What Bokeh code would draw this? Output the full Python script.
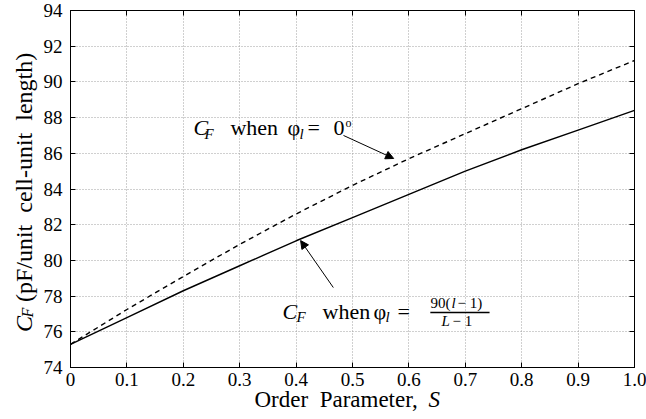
import math
from bokeh.plotting import figure
from bokeh.layouts import row, column
from bokeh.models import Range1d, FixedTicker, LinearAxis, Label, Arrow, NormalHead
from bokeh.embed import file_html
from bokeh.resources import INLINE

# ---- data ----
order_param = [0.0, 0.1, 0.2, 0.3, 0.4, 0.5, 0.6, 0.7, 0.8, 0.9, 1.0]
cf_phi_zero = [75.3, 77.25, 79.1, 80.9, 82.6, 84.2, 85.7, 87.1, 88.5, 89.9, 91.2]
cf_phi_graded = [75.3, 76.8, 78.3, 79.7, 81.1, 82.4, 83.7, 85.0, 86.2, 87.3, 88.4]
x_ticks = [0.0, 0.1, 0.2, 0.3, 0.4, 0.5, 0.6, 0.7, 0.8, 0.9, 1.0]
x_ticklabels = ["0", "0.1", "0.2", "0.3", "0.4", "0.5", "0.6", "0.7", "0.8", "0.9", "1.0"]
y_ticks = [74, 76, 78, 80, 82, 84, 86, 88, 90, 92, 94]

FONT = "Liberation Serif"
NB = "\u00a0"
PHI = "\u03c6"

W, H = 646, 419
LEFT_W = 40
MAIN_H = 393
OVERLAP = 10
BOTTOM_H = H - MAIN_H + OVERLAP

p = figure(width=W - LEFT_W, height=MAIN_H, x_range=Range1d(0, 1), y_range=Range1d(74, 94),
           output_backend="svg", toolbar_location=None,
           min_border_left=30, min_border_right=12, min_border_top=10, min_border_bottom=26)
p.outline_line_color = "black"
p.outline_line_width = 1
p.background_fill_color = "white"
p.border_fill_color = "white"

def style_axis(ax, show_labels=True):
    ax.axis_line_color = "black"
    ax.axis_line_width = 1
    ax.major_tick_in = 5
    ax.major_tick_out = 0
    ax.minor_tick_in = 0
    ax.minor_tick_out = 0
    ax.major_tick_line_color = "black"
    ax.major_label_text_font = FONT
    ax.major_label_text_color = "black"
    ax.major_label_text_font_size = "19px"
    if not show_labels:
        ax.major_label_standoff = 0

p.xaxis.ticker = FixedTicker(ticks=x_ticks)
p.yaxis.ticker = FixedTicker(ticks=y_ticks)
p.xaxis.major_label_overrides = {t: s for t, s in zip(x_ticks, x_ticklabels)}
style_axis(p.xaxis[0])
style_axis(p.yaxis[0])
p.xaxis.major_label_standoff = 5
p.yaxis.major_label_standoff = 8

top_ax = LinearAxis(ticker=FixedTicker(ticks=x_ticks),
                    major_label_overrides={t: "" for t in x_ticks})
right_ax = LinearAxis(ticker=FixedTicker(ticks=y_ticks),
                      major_label_overrides={t: "" for t in y_ticks})
style_axis(top_ax, False)
style_axis(right_ax, False)
p.add_layout(top_ax, "above")
p.add_layout(right_ax, "right")

p.xgrid.ticker = FixedTicker(ticks=x_ticks)
p.ygrid.ticker = FixedTicker(ticks=y_ticks)
for g in (p.xgrid[0], p.ygrid[0]):
    g.grid_line_color = "#a0a0a0"
    g.grid_line_dash = "1 2"
    g.grid_line_width = 1

p.line(order_param, cf_phi_zero, line_color="black", line_width=1.4, line_dash="5 4")
p.line(order_param, cf_phi_graded, line_color="black", line_width=1.4)

def lab(fig, x, y, text, dx=0, dy=0, size=22, style="normal", angle=0, font=FONT):
    if angle == 0:
        dy = dy + round(0.3 * size)   # compensate baseline placement
    fig.add_layout(Label(x=x, y=y, text=text, x_offset=dx, y_offset=dy,
                         text_font=font, text_font_size=f"{size}px", text_font_style=style,
                         text_color="black", text_align="left", text_baseline="alphabetic",
                         angle=angle))

# annotation 1
ax1, ay1 = 0.218, 87.05
lab(p, ax1, ay1, "C", dx=0, style="italic")
lab(p, ax1, ay1, "F", dx=11, dy=-3, size=15, style="italic")
lab(p, ax1, ay1, "when", dx=37)
lab(p, ax1, ay1, PHI, dx=94)
lab(p, ax1, ay1, "l", dx=106, dy=-3, size=15, style="italic")
lab(p, ax1, ay1, "=", dx=114)
lab(p, ax1, ay1, "0", dx=140)
lab(p, ax1, ay1, "o", dx=152, dy=8, size=12)

# annotation 2
ax2, ay2 = 0.376, 76.75
lab(p, ax2, ay2, "C", dx=0, style="italic")
lab(p, ax2, ay2, "F", dx=14, dy=-3, size=15, style="italic")
lab(p, ax2, ay2, "when", dx=40)
lab(p, ax2, ay2, PHI, dx=91)
lab(p, ax2, ay2, "l", dx=103, dy=-3, size=15, style="italic")
lab(p, ax2, ay2, "=", dx=115)
lab(p, ax2, ay2, "90(", dx=148, dy=11, size=15)
lab(p, ax2, ay2, "l", dx=169, dy=11, size=15, style="italic")
lab(p, ax2, ay2, "\u2212" + NB + "1)", dx=175, dy=11, size=15)
lab(p, ax2, ay2, "L", dx=159, dy=-7, size=15, style="italic")
lab(p, ax2, ay2, "\u2212" + NB + "1", dx=170, dy=-7, size=15)
p.add_layout(Arrow(x_start=0.638, y_start=77.08, x_end=0.743, y_end=77.08,
                   start=None, end=None, line_color="black", line_width=1.5))

# arrows
p.add_layout(Arrow(x_start=0.484, y_start=87.0, x_end=0.573, y_end=85.71,
                   end=NormalHead(size=8, fill_color="black", line_color="black"),
                   line_color="black", line_width=1))
p.add_layout(Arrow(x_start=0.466, y_start=78.48, x_end=0.408, y_end=81.11,
                   end=NormalHead(size=8, fill_color="black", line_color="black"),
                   line_color="black", line_width=1))

def blank_fig(w, h, transparent=False, **kw):
    f = figure(width=w, height=h, x_range=Range1d(0, w), y_range=Range1d(0, h),
               output_backend="svg", toolbar_location=None, min_border=0,
               x_axis_type=None, y_axis_type=None, **kw)
    f.outline_line_color = None
    f.background_fill_color = None if transparent else "white"
    f.border_fill_color = None if transparent else "white"
    f.grid.visible = False
    return f

# y-axis label panel (pixel-like coordinates)
yl = blank_fig(LEFT_W, MAIN_H)
A = math.pi / 2
lab(yl, 23, 39, "C", size=24, style="italic", angle=A)
lab(yl, 27, 55, "F", size=16, style="italic", angle=A)
lab(yl, 23, 72, "(pF/unit" + NB + NB + "cell-unit" + NB + NB + "length)", size=24, angle=A)

# x-axis label panel, pulled up so it overlaps the tick-label strip (transparent)
xl = blank_fig(W, BOTTOM_H, transparent=True, styles={"margin-top": f"-{OVERLAP}px"})
lab(xl, 254, 13, "Order" + NB + NB + "Parameter,", size=23)
lab(xl, 428, 13, "S", size=23, style="italic")

layout = column(row(yl, p, spacing=0), xl, spacing=0)
open("out.html", "w").write(file_html(layout, INLINE))
